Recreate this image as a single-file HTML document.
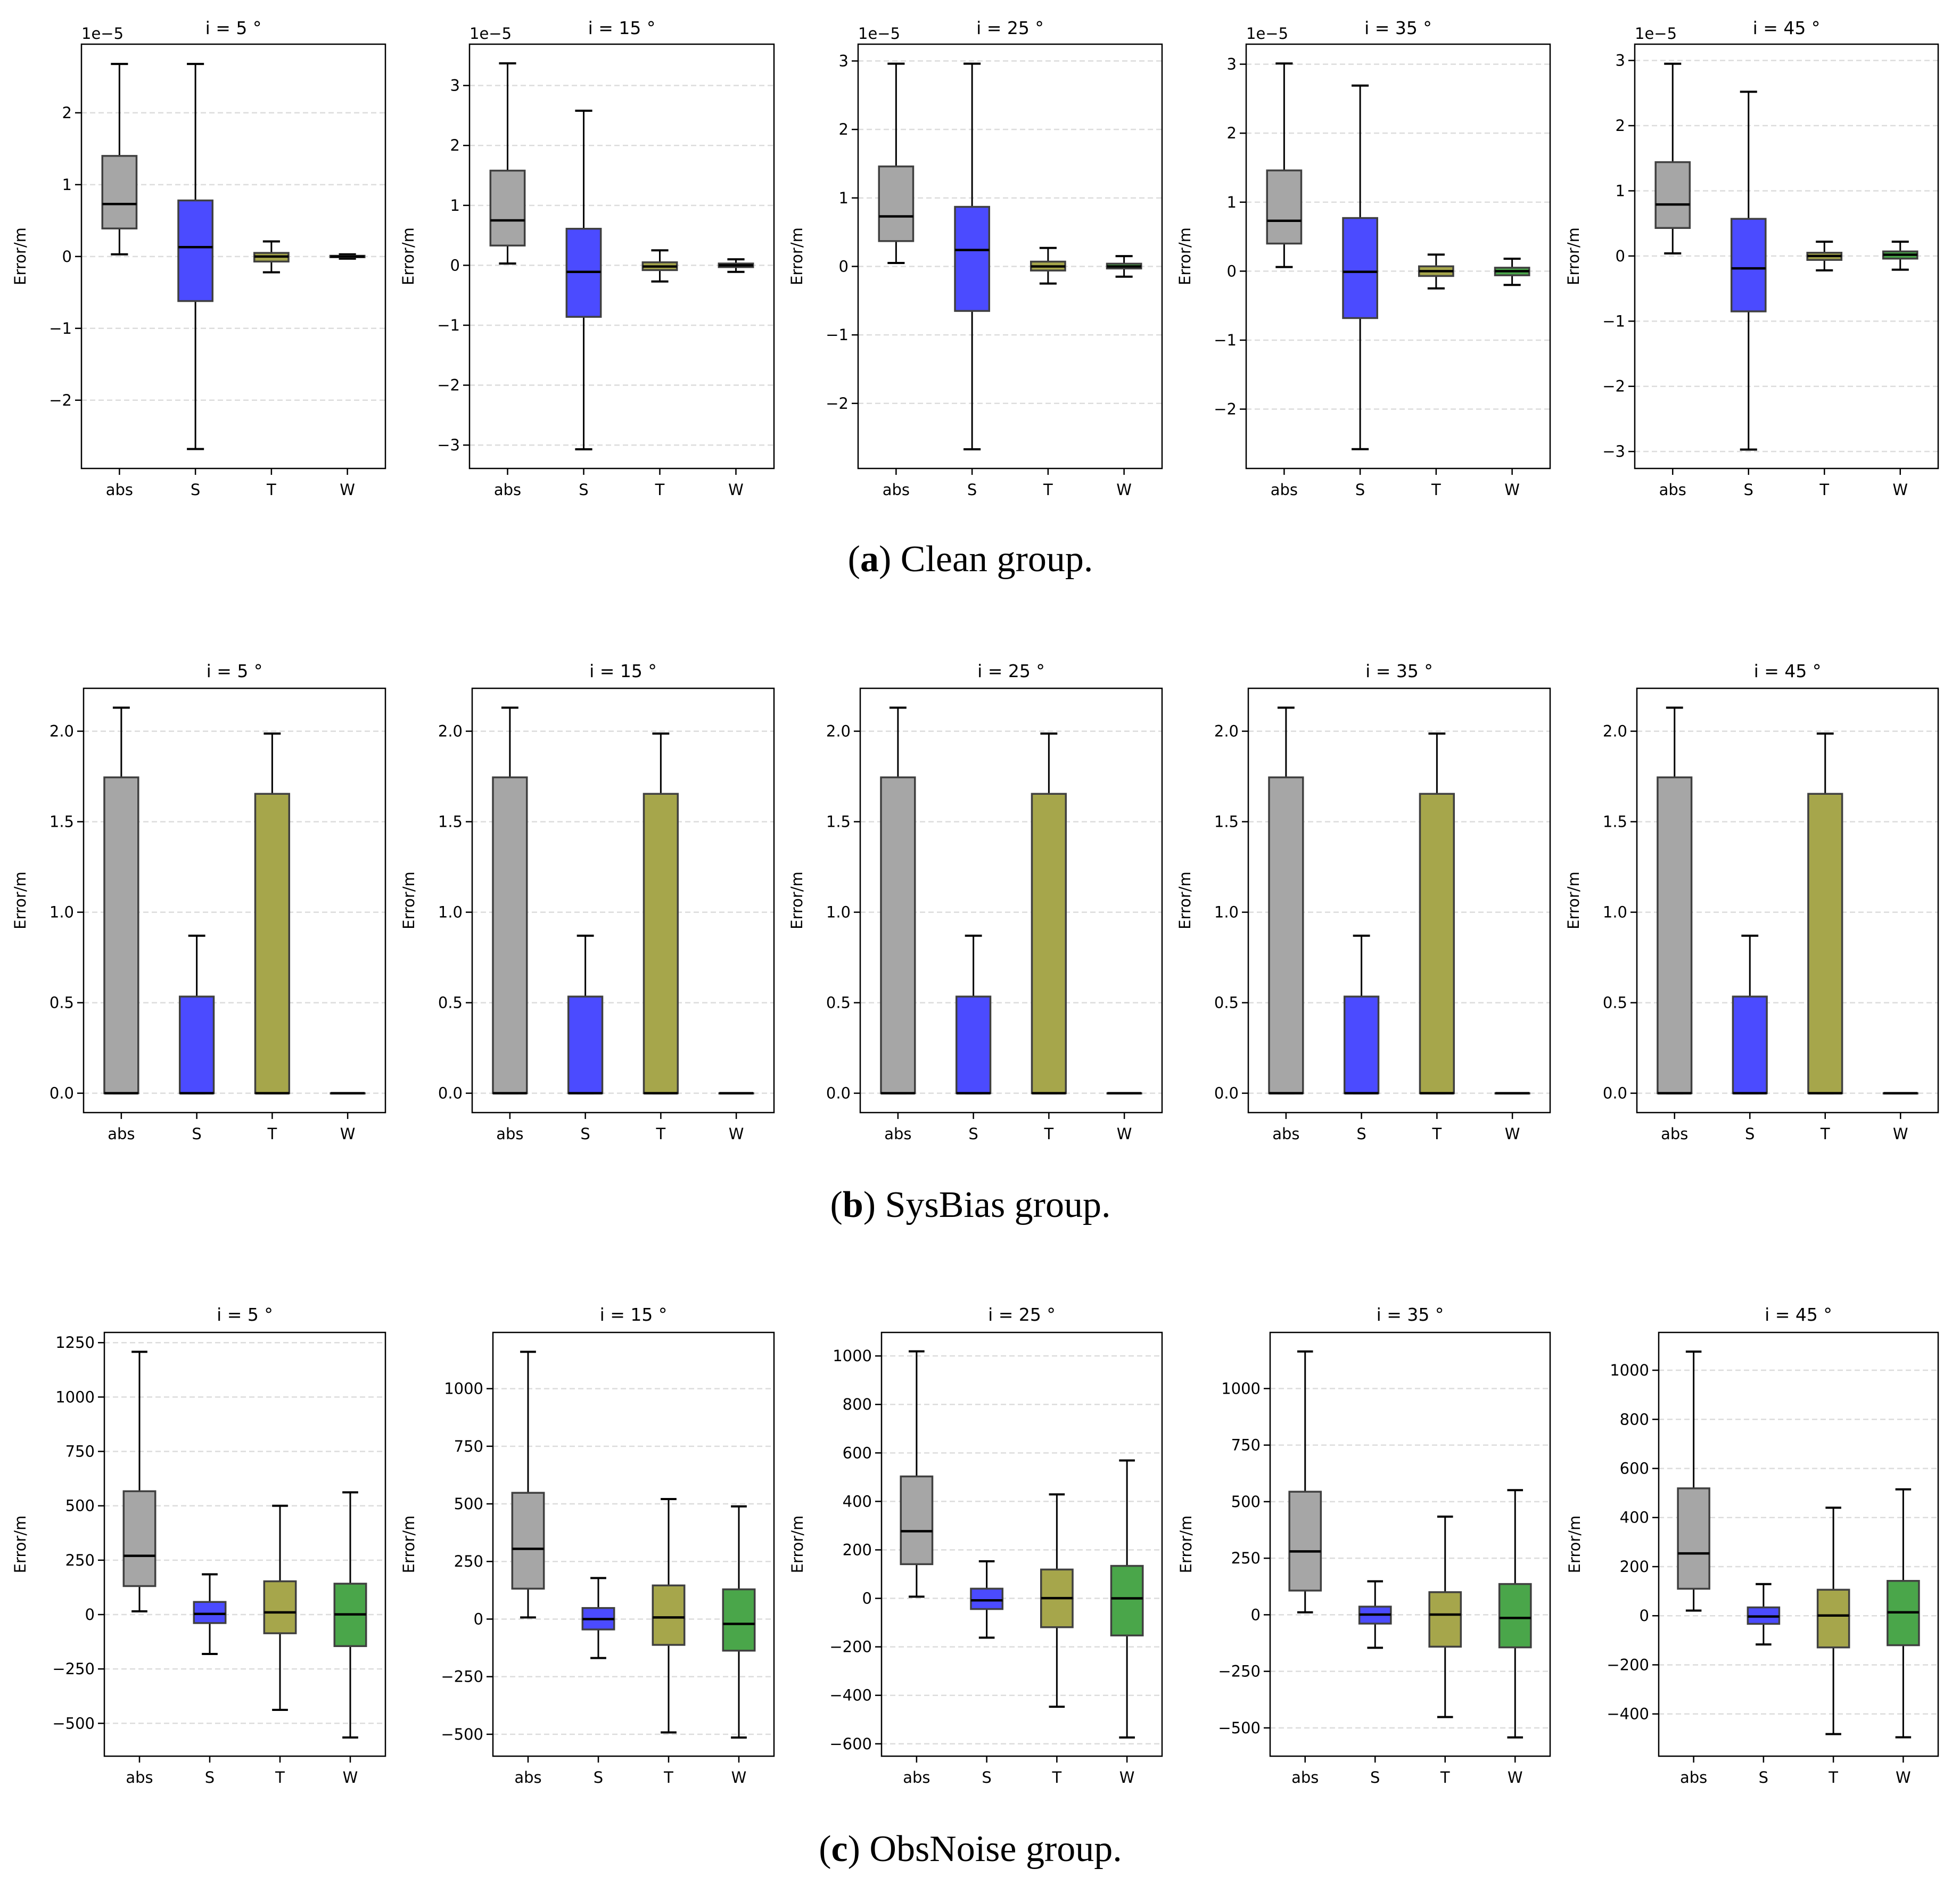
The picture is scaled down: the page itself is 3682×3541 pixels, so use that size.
<!DOCTYPE html>
<html><head><meta charset="utf-8"><style>
html,body{margin:0;padding:0;background:#fff}
svg{display:block}
</style></head><body>
<svg id="fig" xmlns="http://www.w3.org/2000/svg" width="3682" height="3541" viewBox="0 0 3682 3541"></svg>
<script>
// ---------- data: each entry [whiskerLow, q1, median, q3, whiskerHigh] per panel (i=5,15,25,35,45) ----------
const categories = ["abs","S","T","W"];
const angles = [5,15,25,35,45];
// Clean group (units of 1e-5)
const cleanAbs = [[0.03,0.39,0.73,1.40,2.68],[0.03,0.33,0.75,1.58,3.37],[0.05,0.37,0.73,1.46,2.96],[0.06,0.40,0.73,1.46,3.01],[0.04,0.43,0.79,1.44,2.95]];
const cleanS   = [[-2.68,-0.62,0.13,0.78,2.68],[-3.07,-0.86,-0.11,0.61,2.58],[-2.67,-0.65,0.24,0.87,2.96],[-2.58,-0.68,-0.01,0.77,2.69],[-2.97,-0.85,-0.19,0.57,2.52]];
const cleanT   = [[-0.22,-0.07,0.0,0.05,0.21],[-0.27,-0.08,-0.02,0.05,0.25],[-0.25,-0.06,0.0,0.07,0.27],[-0.25,-0.07,0.0,0.07,0.24],[-0.22,-0.06,0.0,0.05,0.22]];
const cleanW   = [[-0.03,-0.01,0.0,0.01,0.03],[-0.11,-0.03,0.0,0.03,0.10],[-0.15,-0.03,0.0,0.04,0.15],[-0.20,-0.06,0.0,0.05,0.18],[-0.21,-0.04,0.02,0.07,0.22]];
const cleanYMin = [-2.95,-3.39,-2.95,-2.86,-3.26];
const cleanYMax = [2.955,3.69,3.245,3.29,3.25];
const cleanTicks = [[-2,-1,0,1,2],[-3,-2,-1,0,1,2,3],[-2,-1,0,1,2,3],[-2,-1,0,1,2,3],[-3,-2,-1,0,1,2,3]];
// SysBias group
const biasAbs = [[0,0,0,1.745,2.13],[0,0,0,1.745,2.13],[0,0,0,1.745,2.13],[0,0,0,1.745,2.13],[0,0,0,1.745,2.13]];
const biasS   = [[0,0,0,0.534,0.87],[0,0,0,0.534,0.87],[0,0,0,0.534,0.87],[0,0,0,0.534,0.87],[0,0,0,0.534,0.87]];
const biasT   = [[0,0,0,1.654,1.987],[0,0,0,1.654,1.987],[0,0,0,1.654,1.987],[0,0,0,1.654,1.987],[0,0,0,1.654,1.987]];
const biasW   = [[0,0,0,0,0],[0,0,0,0,0],[0,0,0,0,0],[0,0,0,0,0],[0,0,0,0,0]];
const biasYMin = [-0.107,-0.107,-0.107,-0.107,-0.107];
const biasYMax = [2.237,2.237,2.237,2.237,2.237];
const biasTicks = [[0,0.5,1,1.5,2],[0,0.5,1,1.5,2],[0,0.5,1,1.5,2],[0,0.5,1,1.5,2],[0,0.5,1,1.5,2]];
// ObsNoise group
const noiseAbs = [[15,131,270,567,1208],[7,132,305,548,1160],[7,141,277,503,1019],[11,107,280,544,1164],[21,110,254,519,1076]];
const noiseS   = [[-181,-39,3,58,185],[-169,-45,0,48,178],[-162,-44,-8,40,153],[-146,-39,1,36,148],[-117,-33,-3,34,129]];
const noiseT   = [[-438,-86,10,153,500],[-492,-112,7,146,521],[-447,-119,1,119,429],[-452,-141,1,100,434],[-482,-129,1,106,440]];
const noiseW   = [[-565,-145,1,142,562],[-514,-137,-21,129,489],[-574,-153,0,134,569],[-542,-144,-14,136,551],[-495,-120,14,142,515]];
const noiseYMin = [-651,-595,-651,-625,-572];
const noiseYMax = [1297,1244,1097,1248,1154];
const noiseTicks = [[-500,-250,0,250,500,750,1000,1250],[-500,-250,0,250,500,750,1000],[-600,-400,-200,0,200,400,600,800,1000],[-500,-250,0,250,500,750,1000],[-400,-200,0,200,400,600,800,1000]];

// ---------- layout ----------
const colors = ["#a6a6a6","#4b4bff","#a6a64b","#4aa64a"];
const rows = [
  {name:"clean", data:[cleanAbs,cleanS,cleanT,cleanW], ymin:cleanYMin, ymax:cleanYMax, ticks:cleanTicks, top:83, bottom:880,
   lefts:[153,882,1612,2341,3071], fmt:v=>String(v).replace('-','\u2212'), offset:true, titleY:64,
   caption:["a",") Clean group."], capY:1073},
  {name:"sysbias", data:[biasAbs,biasS,biasT,biasW], ymin:biasYMin, ymax:biasYMax, ticks:biasTicks, top:1293, bottom:2090,
   lefts:[157,887,1616,2345,3075], fmt:v=>v.toFixed(1), offset:false, titleY:1272,
   caption:["b",") SysBias group."], capY:2286},
  {name:"obsnoise", data:[noiseAbs,noiseS,noiseT,noiseW], ymin:noiseYMin, ymax:noiseYMax, ticks:noiseTicks, top:2503, bottom:3299,
   lefts:[196,926,1656,2386,3116], fmt:v=>String(v).replace('-','\u2212'), offset:false, titleY:2481,
   caption:["c",") ObsNoise group."], capY:3496}
];
const rights=[724,1454,2183,2912,3641];
const NS="http://www.w3.org/2000/svg";
const svg=document.getElementById('fig');
function mk(tag,attrs,parent){const e=document.createElementNS(NS,tag);for(const k in attrs)e.setAttribute(k,attrs[k]);(parent||svg).appendChild(e);return e;}
const FONT='"DejaVu Sans","Liberation Sans",sans-serif';

rows.forEach((row,ri)=>{
  const rg=mk('g',{});
  
  
  angles.forEach((ang,pi)=>{
    const L=row.lefts[pi], R=rights[pi], T=row.top, B=row.bottom;
    const y0=row.ymin[pi], y1=row.ymax[pi];
    const ys=v=>B-(v-y0)/(y1-y0)*(B-T);
    const xs=p=>L+(p-0.5)/4*(R-L);
    const step=(R-L)/4;
    const g=mk('g',{},rg);
    
    
    row.ticks[pi].forEach(t=>{
      const y=ys(t);
      const gl=mk('line',{x1:L,x2:R,y1:y,y2:y,stroke:'#dcdcdc','stroke-width':2.5,'stroke-dasharray':'10,6'},g);
      
      
      mk('line',{x1:L-12,x2:L,y1:y,y2:y,stroke:'#000','stroke-width':2.5},g);
      const tl=mk('text',{x:L-18,y:y+10,'text-anchor':'end','font-size':29,'font-family':FONT,fill:'#000'},g);
      tl.textContent=row.fmt(t);
      
      
    });
    categories.forEach((c,ci)=>{
      const d=row.data[ci][pi];
      const x=xs(ci+1), bw=0.45*step, cw=bw/2;
      const bg=mk('g',{},g);
      
      
      mk('line',{x1:x,x2:x,y1:ys(d[3]),y2:ys(d[4]),stroke:'#000','stroke-width':3},bg);
      mk('line',{x1:x,x2:x,y1:ys(d[1]),y2:ys(d[0]),stroke:'#000','stroke-width':3},bg);
      mk('line',{x1:x-cw/2,x2:x+cw/2,y1:ys(d[4]),y2:ys(d[4]),stroke:'#000','stroke-width':4},bg);
      mk('line',{x1:x-cw/2,x2:x+cw/2,y1:ys(d[0]),y2:ys(d[0]),stroke:'#000','stroke-width':4},bg);
      const yq3=ys(d[3]), yq1=ys(d[1]);
      mk('rect',{x:x-bw/2,y:yq3,width:bw,height:Math.max(yq1-yq3,0.5),fill:colors[ci],stroke:'#404040','stroke-width':3.5},bg);
      mk('line',{x1:x-bw/2,x2:x+bw/2,y1:ys(d[2]),y2:ys(d[2]),stroke:'#000','stroke-width':4.5},bg);
      mk('line',{x1:x,x2:x,y1:B,y2:B+12,stroke:'#000','stroke-width':2.5},g);
      const xl=mk('text',{x:x,y:B+50,'text-anchor':'middle','font-size':29,'font-family':FONT,fill:'#000'},g);
      xl.textContent=c;
      
      
    });
    const fr=mk('rect',{x:L,y:T,width:R-L,height:B-T,fill:'none',stroke:'#000','stroke-width':2.5},g);
    
    
    const tt=mk('text',{x:(L+R)/2,y:row.titleY,'text-anchor':'middle','font-size':33,'font-family':FONT,fill:'#000'},g);
    tt.textContent='i = '+ang+' \u00b0';
    
    
    const yl=mk('text',{x:0,y:0,'text-anchor':'middle','font-size':29,'font-family':FONT,fill:'#000',
      transform:'translate('+(L-(row.name==='obsnoise'?148:(row.name==='sysbias'?109:105)))+','+((T+B)/2)+') rotate(-90)'},g);
    yl.textContent='Error/m';
    
    
    if(row.offset){
      const ot=mk('text',{x:L,y:73,'text-anchor':'start','font-size':29,'font-family':FONT,fill:'#000'},g);
      ot.textContent='1e\u22125';
      
      
    }
  });
  const cap=mk('text',{x:1823,y:row.capY,'text-anchor':'middle','font-size':70,'font-family':'"Liberation Serif",serif',fill:'#000'},rg);
  
  
  const t1=mk('tspan',{},cap);t1.textContent='(';
  const t2=mk('tspan',{'font-weight':'bold'},cap);t2.textContent=row.caption[0];
  const t3=mk('tspan',{},cap);t3.textContent=row.caption[1];
});
</script>
</body></html>
